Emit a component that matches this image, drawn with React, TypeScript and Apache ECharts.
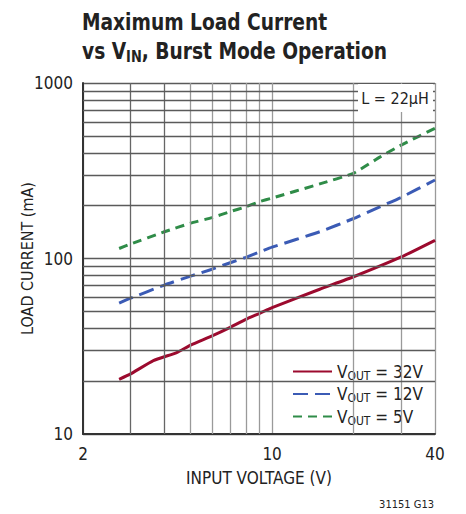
import React, { useEffect, useRef } from "react";
import * as echarts from "echarts";

const FONT = "'Liberation Sans Narrow', 'DejaVu Sans Condensed', 'Liberation Sans', sans-serif";

const seriesNames = ["32V", "12V", "5V"];
const vin32 = [2.72, 3, 3.64, 4.44, 5, 6, 7, 8, 9, 10, 15, 20, 30, 40];
const iload32 = [20.5, 22, 26.2, 29.1, 32.1, 36.2, 40.5, 45, 48.7, 52.5, 66.8, 78.7, 102, 127];
const vin12 = [2.72, 3, 4, 5, 6, 7, 8, 9, 10, 15, 20, 25, 30, 40];
const iload12 = [55.6, 59.4, 70.6, 79.4, 86.9, 94.6, 101.6, 109, 116, 142, 169, 197, 223, 280];
const vin5 = [2.72, 3, 4, 5, 6, 7, 8, 9, 10, 15, 20, 25, 30, 40];
const iload5 = [114, 121, 142, 159, 171, 185, 197, 211, 221, 266, 306, 378, 443, 552];

const xDarkGrid = [3, 4];
const xLightGrid = [5, 6, 7, 8, 9, 20, 30];
const yMinorGrid = [20, 30, 40, 50, 60, 70, 80, 90, 200, 300, 400, 500, 600, 700, 800, 900];

const colors = ["#9c0a2e", "#3b5bb5", "#2f8c48"];

function pairs(xs: number[], ys: number[]) {
  return xs.map((x, i) => [x, ys[i]]);
}

export default function App() {
  const ref = useRef<HTMLDivElement>(null);
  useEffect(() => {
    if (!ref.current) return;
    const chart = echarts.init(ref.current, undefined, { renderer: "svg" });
    const gridVDark = { color: "#666", width: 1.3, type: "solid" as const };
    const gridVLight = { color: "#9a9a9a", width: 1.3, type: "solid" as const };
    const gridH = { color: "#5a5a5a", width: 1.3, type: "solid" as const };
    chart.setOption({
      animation: false,
      backgroundColor: "#fff",
      textStyle: { fontFamily: FONT },
      grid: { left: 83, right: 31, top: 83, bottom: 80, containLabel: false, outerBoundsMode: "none" },
      graphic: [
        {
          type: "text",
          x: 82,
          y: 8,
          scaleX: 0.9,
          z: 10,
          style: {
            text: "{t|Maximum Load Current}\n{t|vs V}{s|IN}{t|, Burst Mode Operation}",
            fontFamily: FONT,
            rich: {
              t: { fontSize: 23, fontWeight: "bold", fontFamily: FONT, fill: "#222", lineHeight: 29 },
              s: { fontSize: 16, fontWeight: "bold", fontFamily: FONT, fill: "#222", padding: [10, 0, 0, 0], lineHeight: 29 },
            },
          },
        },
        {
          type: "rect",
          z: 10,
          shape: { x: 358, y: 84, width: 75, height: 28 },
          style: { fill: "#fff" },
        },
        {
          type: "text",
          z: 11,
          x: 395,
          y: 98,
          style: {
            text: "L = 22µH",
            fontSize: 16,
            fontFamily: FONT,
            fill: "#222",
            align: "center",
            verticalAlign: "middle",
          },
        },
        {
          type: "text",
          z: 11,
          right: 32,
          top: 499,
          style: { text: "31151 G13", fontSize: 11, fontFamily: FONT, fill: "#222" },
        },
      ],
      legend: {
        orient: "vertical",
        left: 284,
        top: 360,
        padding: [3, 6, 3, 8],
        itemGap: 4,
        itemWidth: 39,
        itemHeight: 14,
        backgroundColor: "#fff",
        data: seriesNames,
        itemStyle: { opacity: 0 },
        formatter: (name: string) => `{v|V}{s|OUT}{v| = ${name}}`,
        textStyle: {
          fontFamily: FONT,
          color: "#222",
          rich: {
            v: { fontSize: 17, fontFamily: FONT, color: "#222" },
            s: { fontSize: 12, fontFamily: FONT, color: "#222", padding: [8, 0, 0, 0] },
          },
        },
      },
      xAxis: {
        type: "log",
        logBase: 10,
        min: 2,
        max: 40,
        name: "INPUT VOLTAGE (V)",
        nameLocation: "middle",
        nameGap: 35,
        nameMoveOverlap: false,
        nameTextStyle: { fontSize: 17, fontFamily: FONT, color: "#222" },
        axisLine: { show: true, lineStyle: { color: "#333", width: 2 } },
        axisTick: { show: false },
        axisLabel: { fontSize: 17, fontFamily: FONT, color: "#222", margin: 11, showMinLabel: true, showMaxLabel: true, formatter: (v: number) => String(Math.round(v)) },
        splitLine: { show: true, lineStyle: gridVLight },
      },
      yAxis: {
        type: "log",
        logBase: 10,
        min: 10,
        max: 1000,
        name: "LOAD CURRENT (mA)",
        nameLocation: "middle",
        nameGap: 48,
        nameMoveOverlap: false,
        nameTextStyle: { fontSize: 16, fontFamily: FONT, color: "#222" },
        axisLine: { show: true, lineStyle: { color: "#333", width: 2 } },
        axisTick: { show: false },
        axisLabel: { fontSize: 17, fontFamily: FONT, color: "#222", margin: 10, formatter: (v: number) => String(Math.round(v)) },
        splitLine: { show: true, lineStyle: gridH },
      },
      series: [
        {
          name: "grid",
          type: "line",
          data: [],
          silent: true,
          z: 1,
          markLine: {
            silent: true,
            symbol: "none",
            label: { show: false },
            animation: false,
            data: [
              ...xDarkGrid.map((v) => ({ xAxis: v, lineStyle: gridVDark })),
              ...xLightGrid.map((v) => ({ xAxis: v, lineStyle: gridVLight })),
              ...yMinorGrid.map((v) => ({ yAxis: v, lineStyle: gridH })),
            ],
          },
        },
        {
          name: "32V",
          type: "line",
          smooth: 0.15,
          symbol: "none",
          z: 3,
          data: pairs(vin32, iload32),
          lineStyle: { color: colors[0], width: 3, type: "solid" },
          itemStyle: { color: colors[0] },
        },
        {
          name: "12V",
          type: "line",
          smooth: 0.15,
          symbol: "none",
          z: 3,
          data: pairs(vin12, iload12),
          lineStyle: { color: colors[1], width: 3, type: [15, 7] },
          itemStyle: { color: colors[1] },
        },
        {
          name: "5V",
          type: "line",
          smooth: 0.15,
          symbol: "none",
          z: 3,
          data: pairs(vin5, iload5),
          lineStyle: { color: colors[2], width: 3, type: [9, 6] },
          itemStyle: { color: colors[2] },
        },
      ],
    });
    return () => chart.dispose();
  }, []);
  return (
    <div
      ref={ref}
      style={{ position: "fixed", left: 0, top: 0, width: 466, height: 514, background: "#fff" }}
    />
  );
}
